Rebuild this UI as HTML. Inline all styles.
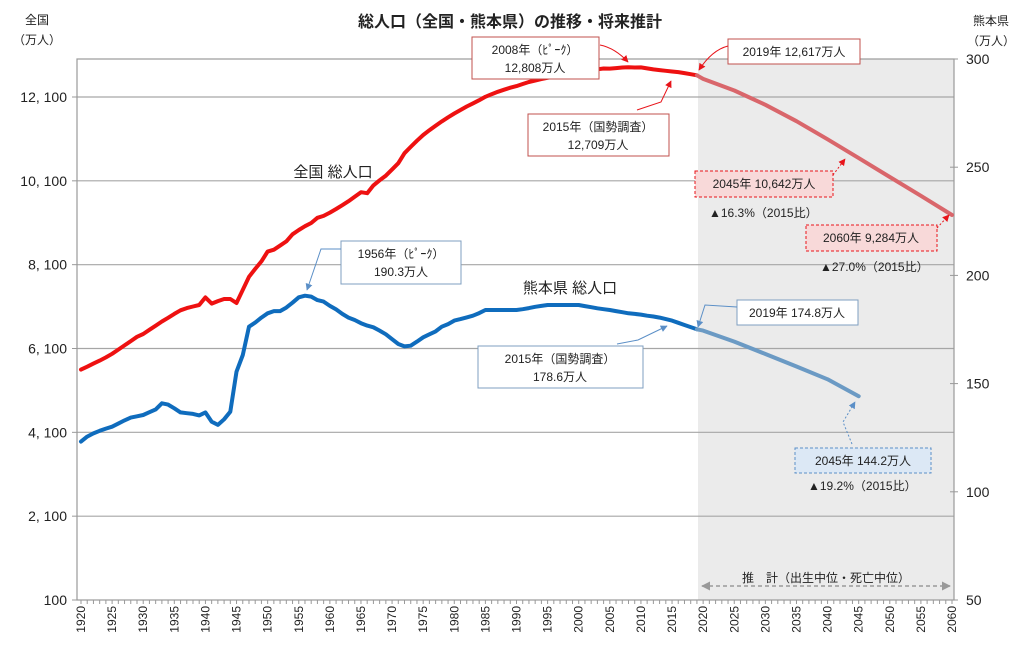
<!DOCTYPE html>
<html><head><meta charset="utf-8">
<style>
html,body{margin:0;padding:0;background:#fff;}
svg{display:block;font-family:"Liberation Sans","Noto Sans CJK JP",sans-serif;}
</style></head>
<body>
<svg id="chart" width="1024" height="657" viewBox="0 0 1024 657">
<defs>
<marker id="ar" viewBox="0 0 10 10" refX="9" refY="5" markerWidth="7" markerHeight="7" orient="auto"><path d="M0,0L10,5L0,10z" fill="#e8141a"/></marker>
<marker id="ab" viewBox="0 0 10 10" refX="9" refY="5" markerWidth="7" markerHeight="7" orient="auto"><path d="M0,0L10,5L0,10z" fill="#5b8fc7"/></marker>
<marker id="ag" viewBox="0 0 10 10" refX="9" refY="5" markerWidth="6" markerHeight="6" orient="auto-start-reverse"><path d="M0,0L10,5L0,10z" fill="#999"/></marker>
</defs>
<rect x="698" y="59" width="256" height="541" fill="#ebebeb"/>
<g id="grid"></g>
<rect x="77" y="59" width="877" height="541" fill="none" stroke="#999" stroke-width="1.2"/>
<g id="axes"></g>
<g id="series"></g>

<text x="510" y="27" text-anchor="middle" font-size="16" font-weight="bold" fill="#222">総人口（全国・熊本県）の推移・将来推計</text>
<text x="37" y="24" text-anchor="middle" font-size="12" fill="#222">全国</text>
<text x="37" y="44" text-anchor="middle" font-size="12" fill="#222">（万人）</text>
<text x="991" y="25" text-anchor="middle" font-size="12" fill="#222">熊本県</text>
<text x="991" y="45" text-anchor="middle" font-size="12" fill="#222">（万人）</text>

<text x="333" y="177" text-anchor="middle" font-size="15" fill="#222">全国 総人口</text>
<text x="570" y="293" text-anchor="middle" font-size="15" fill="#222">熊本県 総人口</text>

<g font-size="12" fill="#222" text-anchor="middle">
<g>
<rect x="472" y="37" width="127" height="42" fill="#fff" stroke="#c0504d"/>
<text x="535" y="54">2008年（ﾋﾟｰｸ）</text><text x="535" y="72">12,808万人</text>
<path d="M600,45 Q615,48 628,62" fill="none" stroke="#e8141a" marker-end="url(#ar)"/></g>
<g>
<rect x="728" y="39" width="132" height="25" fill="#fff" stroke="#c0504d"/>
<text x="794" y="56">2019年 12,617万人</text>
<path d="M728,46 Q712,50 699,70" fill="none" stroke="#e8141a" marker-end="url(#ar)"/></g>
<g>
<rect x="528" y="114" width="141" height="42" fill="#fff" stroke="#c0504d"/>
<text x="598" y="131">2015年（国勢調査）</text><text x="598" y="149">12,709万人</text>
<path d="M637,110 L661,102 L671,81" fill="none" stroke="#e8141a" marker-end="url(#ar)"/></g>
<g>
<rect x="695" y="171" width="138" height="26" fill="#f8d9d9" stroke="#e8141a" stroke-dasharray="3,2"/>
<text x="764" y="188">2045年 10,642万人</text>
<path d="M833,175 L845,159" fill="none" stroke="#e8141a" stroke-dasharray="2,2" marker-end="url(#ar)"/>
<text x="709" y="217" text-anchor="start">▲16.3%（2015比）</text></g>
<g>
<rect x="806" y="225" width="131" height="26" fill="#f8d9d9" stroke="#e8141a" stroke-dasharray="3,2"/>
<text x="871" y="242">2060年 9,284万人</text>
<path d="M937,228 L949,215" fill="none" stroke="#e8141a" stroke-dasharray="2,2" marker-end="url(#ar)"/>
<text x="820" y="271" text-anchor="start">▲27.0%（2015比）</text></g>
<g>
<rect x="341" y="241" width="120" height="43" fill="#fff" stroke="#7f9fc0"/>
<text x="401" y="258">1956年（ﾋﾟｰｸ）</text><text x="401" y="276">190.3万人</text>
<path d="M341,249 L321,249 L307,290" fill="none" stroke="#5b8fc7" marker-end="url(#ab)"/></g>
<g>
<rect x="737" y="300" width="121" height="25" fill="#fff" stroke="#7f9fc0"/>
<text x="797" y="317">2019年 174.8万人</text>
<path d="M737,307 L705,305 L698,327" fill="none" stroke="#5b8fc7" marker-end="url(#ab)"/></g>
<g>
<rect x="478" y="346" width="165" height="42" fill="#fff" stroke="#7f9fc0"/>
<text x="560" y="363">2015年（国勢調査）</text><text x="560" y="381">178.6万人</text>
<path d="M617,344 L638,340 L667,326" fill="none" stroke="#5b8fc7" marker-end="url(#ab)"/></g>
<g>
<rect x="795" y="448" width="136" height="25" fill="#dce8f5" stroke="#5b8fc7" stroke-dasharray="3,2"/>
<text x="863" y="465">2045年 144.2万人</text>
<path d="M852,444 L843,422 L855,402" fill="none" stroke="#5b8fc7" stroke-dasharray="2,2" marker-end="url(#ab)"/>
<text x="808" y="490" text-anchor="start">▲19.2%（2015比）</text></g>
<g>
<text x="826" y="582">推　計（出生中位・死亡中位）</text>
<line x1="702" y1="586" x2="950" y2="586" stroke="#999" stroke-width="1.5" stroke-dasharray="4,3" marker-start="url(#ag)" marker-end="url(#ag)"/></g>
</g>

<script>
const years = [1920,1921,1922,1923,1924,1925,1926,1927,1928,1929,1930,1931,1932,1933,1934,1935,1936,1937,1938,1939,1940,1941,1942,1943,1944,1945,1946,1947,1948,1949,1950,1951,1952,1953,1954,1955,1956,1957,1958,1959,1960,1961,1962,1963,1964,1965,1966,1967,1968,1969,1970,1971,1972,1973,1974,1975,1976,1977,1978,1979,1980,1981,1982,1983,1984,1985,1986,1987,1988,1989,1990,1991,1992,1993,1994,1995,1996,1997,1998,1999,2000,2001,2002,2003,2004,2005,2006,2007,2008,2009,2010,2011,2012,2013,2014,2015,2016,2017,2018,2019];
const nationalActual = [5596,5666,5739,5812,5888,5974,6074,6174,6276,6379,6445,6545,6643,6745,6832,6925,7011,7063,7101,7138,7320,7170,7230,7280,7280,7185,7500,7810,8000,8177,8412,8457,8554,8654,8824,8928,9017,9093,9218,9264,9342,9428,9518,9615,9718,9828,9804,9992,10113,10225,10372,10520,10760,10910,11057,11194,11309,11416,11519,11616,11706,11790,11873,11948,12023,12105,12167,12224,12275,12321,12361,12410,12457,12494,12527,12557,12586,12616,12649,12667,12693,12729,12744,12762,12779,12777,12790,12803,12808,12803,12806,12783,12759,12741,12724,12709,12693,12671,12644,12617];
const kumamotoActual = [123.2,125.5,127,128.2,129.2,130.1,131.5,133,134.3,134.9,135.5,136.8,138.1,140.9,140.3,138.6,136.7,136.3,136.0,135.3,136.7,132.4,130.9,133.5,137.0,155.5,163.2,176.3,178.2,180.5,182.5,183.5,183.5,185.1,187.4,189.9,190.6,190.2,188.6,187.9,185.9,184.3,182.2,180.5,179.4,177.9,176.8,176.0,174.5,172.8,170.5,168.3,167.2,167.5,169.4,171.4,172.8,174.1,176.3,177.5,179.1,179.8,180.6,181.4,182.6,184.0,184.0,184.0,184.0,184.0,184.0,184.4,184.9,185.5,185.9,186.3,186.3,186.3,186.3,186.3,186.3,185.8,185.3,184.8,184.4,184.0,183.5,183.0,182.5,182.2,181.9,181.4,181.0,180.5,179.8,179.1,178.1,177.1,176.1,175.1];
const projYearsN = [2019,2020,2025,2030,2035,2040,2045,2050,2055,2060];
const nationalProj = [12617,12532,12254,11913,11522,11092,10642,10192,9744,9284];
const projYearsK = [2019,2020,2025,2030,2035,2040,2045];
const kumamotoProj = [175.1,174.5,169.4,163.7,157.9,152.0,144.2];
const leftTicks = [100,2100,4100,6100,8100,10100,12100];
const leftTickLabels = ["100","2, 100","4, 100","6, 100","8, 100","10, 100","12, 100"];
const rightTicks = [50,100,150,200,250,300];
const xTickYears = [1920,1925,1930,1935,1940,1945,1950,1955,1960,1965,1970,1975,1980,1985,1990,1995,2000,2005,2010,2015,2020,2025,2030,2035,2040,2045,2050,2055,2060];

const NS="http://www.w3.org/2000/svg";
const X = y => 81 + (y-1920)*(871/140);
const YL = v => 600 - (v-100)*(503/12000);
const YR = v => 600 - (v-50)*(541/250);
function mk(tag, attrs, parent){const e=document.createElementNS(NS,tag);for(const k in attrs)e.setAttribute(k,attrs[k]);parent.appendChild(e);return e;}
const grid=document.getElementById('grid'), axes=document.getElementById('axes'), ser=document.getElementById('series');

leftTicks.forEach((v,i)=>{
  if(i>0){const g=mk('line',{x1:77,x2:954,y1:YL(v),y2:YL(v),stroke:'#a6a6a6','stroke-width':1.2},grid);
  
  }
  const tk=mk('line',{x1:72,x2:77,y1:YL(v),y2:YL(v),stroke:'#999'},axes);
  
  
  const t=mk('text',{x:67,y:YL(v)+5,'text-anchor':'end','font-size':14,fill:'#222'},axes);
  t.textContent=leftTickLabels[i];
  
  
});
rightTicks.forEach(v=>{
  const tk=mk('line',{x1:950,x2:958,y1:YR(v),y2:YR(v),stroke:'#999'},axes);
  
  
  const t=mk('text',{x:966,y:YR(v)+5,'font-size':14,fill:'#222'},axes);
  t.textContent=v;
  
  
});
for(let y=1920;y<=2060;y++){
  const tk=mk('line',{x1:X(y),x2:X(y),y1:600,y2:604,stroke:'#999'},axes);
  
  
}
xTickYears.forEach(y=>{
  const t=mk('text',{x:0,y:0,transform:`translate(${X(y)+4},606) rotate(-90)`,'text-anchor':'end','font-size':12,fill:'#222'},axes);
  t.textContent=y;
  
  
});
function line(xs,vs,scale,color,w,name){
  const d=xs.map((y,i)=>(i?'L':'M')+X(y).toFixed(1)+','+scale(vs[i]).toFixed(1)).join('');
  const p=mk('path',{d:d,fill:'none',stroke:color,'stroke-width':w,'stroke-linejoin':'round','stroke-linecap':'round'},ser);
  
  
}
line(years,nationalActual,YL,'#ee1111',4,'national-population-line');
line(projYearsN,nationalProj,YL,'#d9666b',4,'national-projection-line');
line(years,kumamotoActual,YR,'#0f6cbd',4,'kumamoto-population-line');
line(projYearsK,kumamotoProj,YR,'#6b9ac4',4,'kumamoto-projection-line');
</script>
</svg>
</body></html>
